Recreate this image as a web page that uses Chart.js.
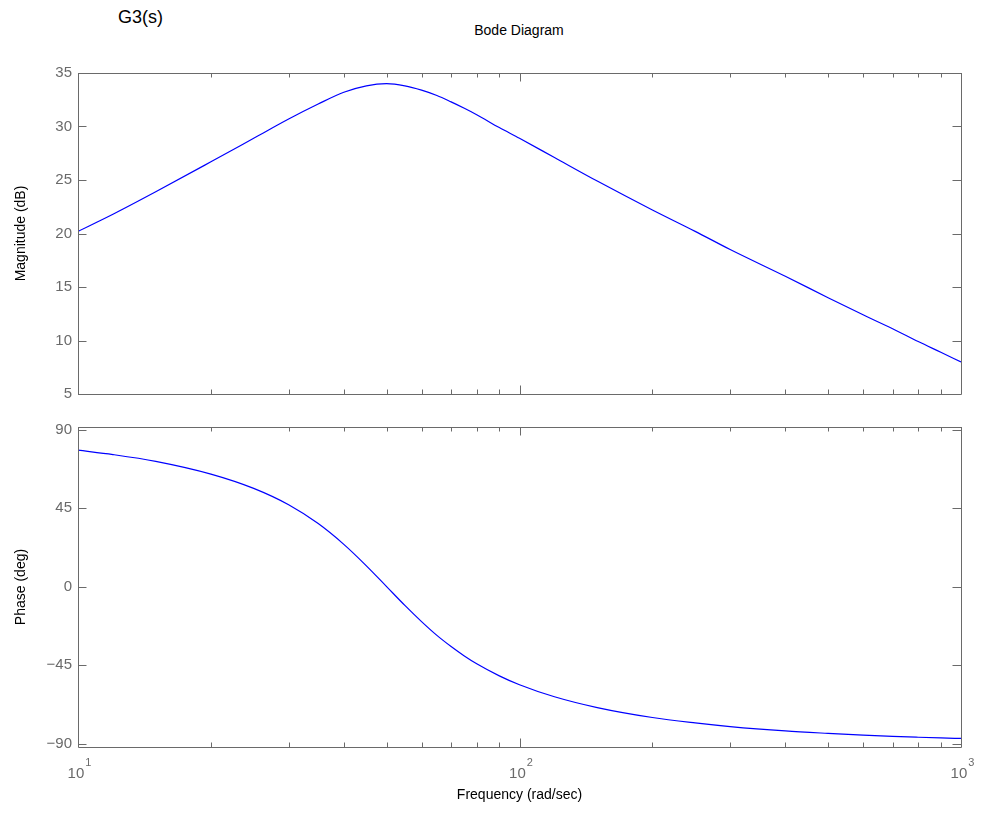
<!DOCTYPE html>
<html>
<head>
<meta charset="utf-8">
<script src="https://cdn.jsdelivr.net/npm/chart.js@4.4.1/dist/chart.umd.min.js"></script>
<style>
  body { margin: 0; background: #fff; }
  #wrap { position: relative; width: 981px; height: 813px; font-family: "Liberation Sans", Arial, sans-serif; }
  #wrap canvas { position: absolute; left: 0; top: 0; }
  .txt { position: absolute; color: #000; white-space: nowrap; }
</style>
</head>
<body>
<div id="wrap">
  <div class="txt" style="left:118px; top:7px; font-size:18px;">G3(s)</div>
  <div class="txt" style="left:519px; top:22px; font-size:14px; transform:translateX(-50%);">Bode Diagram</div>
  <canvas id="magChart" width="981" height="813"></canvas>
  <canvas id="phaseChart" width="981" height="813"></canvas>
</div>
<script>
// frequency points (rad/sec)
const freq = [10, 12, 15, 20, 25, 30, 35, 40, 45, 50, 55, 60, 65, 70, 75, 80, 90, 100,
  120, 150, 200, 250, 300, 400, 500, 600, 700, 800, 900, 1000];
const magDb = [20.2, 21.8, 23.9, 26.7, 28.9, 30.7, 32.1, 33.2, 33.8, 34.0, 33.8, 33.4, 32.9,
  32.3, 31.7, 31.1, 29.9, 28.9, 27.1, 24.9, 22.2, 20.2, 18.5, 16.0, 14.0, 12.4, 11.1, 9.9, 8.9, 8.0];
const phaseDeg = [78.2, 75.7, 71.8, 64.5, 56.3, 46.9, 36.1, 24.2, 11.9, 0, -10.8, -20.1, -28.0,
  -34.4, -39.8, -44.3, -51.2, -56.3, -63.2, -69.4, -75.1, -78.2, -80.3, -82.8, -84.2, -85.2,
  -85.9, -86.4, -86.8, -87.1];

// tick values and labels
const xMajor = [10, 100, 1000];
const xMinor = [20, 30, 40, 50, 60, 70, 80, 90, 200, 300, 400, 500, 600, 700, 800, 900];
const xTickBase = "10";
const xTickExp = ["1", "2", "3"];
const magTicks = [5, 10, 15, 20, 25, 30, 35];
const phaseTicks = [-90, -45, 0, 45, 90];

const FONT = "'Liberation Sans', Arial, sans-serif";
const AXIS_GREY = "#6a6a6a";

// MATLAB style box with inward ticks, plus 10^n labels
const boxPlugin = {
  id: "matBox",
  afterDraw(chart) {
    const { ctx, chartArea: a, scales } = chart;
    const xs = scales.x, ys = scales.y;
    ctx.save();
    ctx.strokeStyle = AXIS_GREY;
    ctx.lineWidth = 1;
    ctx.beginPath();
    ctx.rect(Math.round(a.left) + 0.5, Math.round(a.top) + 0.5,
      Math.round(a.right - a.left), Math.round(a.bottom - a.top));
    const tickX = (v, len) => {
      const px = Math.round(xs.getPixelForValue(v)) + 0.5;
      ctx.moveTo(px, a.bottom); ctx.lineTo(px, a.bottom - len);
      ctx.moveTo(px, a.top); ctx.lineTo(px, a.top + len);
    };
    xMajor.forEach(v => tickX(v, 8.5));
    xMinor.forEach(v => tickX(v, 4.5));
    chart.options.yTickVals.forEach(v => {
      const py = Math.round(ys.getPixelForValue(v)) + 0.5;
      ctx.moveTo(a.left, py); ctx.lineTo(a.left + 8.5, py);
      ctx.moveTo(a.right, py); ctx.lineTo(a.right - 8.5, py);
    });
    ctx.stroke();

    if (chart.options.xLabels) {
      ctx.fillStyle = AXIS_GREY;
      ctx.textBaseline = "middle";
      xMajor.forEach((v, i) => {
        const px = xs.getPixelForValue(v);
        ctx.font = "15px " + FONT;
        const bw = ctx.measureText(xTickBase).width;
        ctx.font = "11px " + FONT;
        const ew = ctx.measureText(xTickExp[i]).width;
        const x0 = px - (bw + ew) / 2 + 1;
        ctx.textAlign = "left";
        ctx.font = "15px " + FONT;
        ctx.fillText(xTickBase, x0, a.bottom + 27);
        ctx.font = "11px " + FONT;
        ctx.fillText(xTickExp[i], x0 + bw + 1, a.bottom + 16);
      });
    }
    ctx.restore();
  }
};

function makeChart(id, values, yOpts, showX, padTop, padBottom, xHeight, yTitle) {
  const ctx = document.getElementById(id).getContext("2d");
  return new Chart(ctx, {
    type: "line",
    data: {
      datasets: [{
        data: freq.map((f, i) => ({ x: f, y: values[i] })),
        borderColor: "#0000ff",
        borderWidth: 1.2,
        pointRadius: 0,
        fill: false,
        cubicInterpolationMode: "monotone"
      }]
    },
    options: {
      responsive: false,
      animation: false,
      devicePixelRatio: 1,
      yTickVals: yOpts.ticks,
      xLabels: showX,
      layout: { padding: { top: padTop, bottom: padBottom, left: 0, right: 20 } },
      plugins: { legend: { display: false }, tooltip: { enabled: false } },
      scales: {
        x: {
          type: "logarithmic",
          min: 10,
          max: 1000,
          grid: { display: false },
          border: { display: false },
          afterBuildTicks: s => { s.ticks = xMajor.map(v => ({ value: v })); },
          afterFit: s => { s.height = xHeight; },
          ticks: { display: false },
          title: {
            display: showX,
            text: "Frequency (rad/sec)",
            color: "#000",
            font: { family: FONT, size: 14 },
            padding: { bottom: 9 }
          }
        },
        y: {
          min: yOpts.min,
          max: yOpts.max,
          grid: { display: false, drawTicks: false },
          border: { display: false },
          afterBuildTicks: s => { s.ticks = yOpts.ticks.map(v => ({ value: v })); },
          afterFit: s => { s.width = 78; },
          ticks: {
            color: AXIS_GREY,
            font: { family: FONT, size: 15 },
            padding: 6,
            callback: v => (v < 0 ? "\u2212" + Math.abs(v) : String(v))
          },
          title: {
            display: true,
            text: yTitle,
            color: "#000",
            font: { family: FONT, size: 14 },
            padding: { top: 13 }
          }
        }
      }
    },
    plugins: [boxPlugin]
  });
}

window.onload = function () {
  makeChart("magChart", magDb, { min: 5, max: 35, ticks: magTicks }, false, 73, 419, 0, "Magnitude (dB)");
  makeChart("phaseChart", phaseDeg, { min: -92, max: 91.5, ticks: phaseTicks }, true, 427, 0, 66, "Phase (deg)");
};
</script>
</body>
</html>
